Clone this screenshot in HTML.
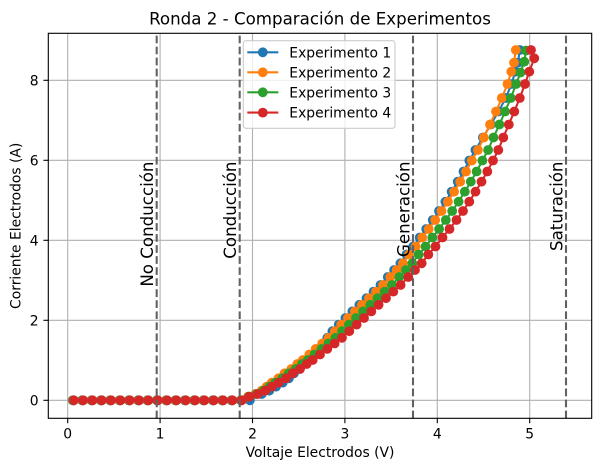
<!DOCTYPE html>
<html><head><meta charset="utf-8"><style>
html,body{margin:0;padding:0;background:#fff;}
svg{display:block;font-family:"DejaVu Sans","Liberation Sans",sans-serif;}
</style></head><body>
<svg width="600" height="471" viewBox="0 0 600 471" xmlns="http://www.w3.org/2000/svg">
<defs>
<marker id="mb" markerUnits="userSpaceOnUse" markerWidth="12" markerHeight="12" refX="6" refY="6" overflow="visible"><circle cx="6" cy="6" r="4.9" fill="#1f77b4"/></marker>
<marker id="mo" markerUnits="userSpaceOnUse" markerWidth="12" markerHeight="12" refX="6" refY="6" overflow="visible"><circle cx="6" cy="6" r="4.9" fill="#ff7f0e"/></marker>
<marker id="mg" markerUnits="userSpaceOnUse" markerWidth="12" markerHeight="12" refX="6" refY="6" overflow="visible"><circle cx="6" cy="6" r="4.9" fill="#2ca02c"/></marker>
<marker id="mr" markerUnits="userSpaceOnUse" markerWidth="12" markerHeight="12" refX="6" refY="6" overflow="visible"><circle cx="6" cy="6" r="4.9" fill="#d62728"/></marker>
</defs>
<rect width="600" height="471" fill="#fff"/>
<g stroke="#b0b0b0" stroke-width="1.1">
<line x1="67.7" y1="33.3" x2="67.7" y2="418.3"/>
<line x1="160.1" y1="33.3" x2="160.1" y2="418.3"/>
<line x1="252.5" y1="33.3" x2="252.5" y2="418.3"/>
<line x1="344.9" y1="33.3" x2="344.9" y2="418.3"/>
<line x1="437.3" y1="33.3" x2="437.3" y2="418.3"/>
<line x1="529.7" y1="33.3" x2="529.7" y2="418.3"/>
<line x1="48.3" y1="400.3" x2="591.7" y2="400.3"/>
<line x1="48.3" y1="320.3" x2="591.7" y2="320.3"/>
<line x1="48.3" y1="240.3" x2="591.7" y2="240.3"/>
<line x1="48.3" y1="160.3" x2="591.7" y2="160.3"/>
<line x1="48.3" y1="80.3" x2="591.7" y2="80.3"/>
</g>
<g fill="none" stroke-width="2.08" stroke-linejoin="round">
<polyline stroke="#1f77b4" marker-start="url(#mb)" marker-mid="url(#mb)" marker-end="url(#mb)" points="72.6,400.3 81.9,400.3 91.3,400.3 100.6,400.3 109.9,400.3 119.3,400.3 128.6,400.3 137.9,400.3 147.2,400.3 156.6,400.3 165.9,400.3 175.2,400.3 184.6,400.3 193.9,400.3 203.2,400.3 212.6,400.3 221.9,400.3 231.2,400.3 240.5,400.3 249.9,400.3 261.7,394 269.3,390.7 276,386.7 282.7,382.7 288.9,378.3 294,373.3 299.8,369 304.6,364 309,360 313.9,354.5 318.6,348.9 323.1,343.5 327.3,337.8 332.4,331.2 338.7,324.6 345.4,318 352.4,311.4 359.4,304.8 366.5,298.2 373.5,291.6 380.5,285 387.8,277 394.1,270 400.4,263.3 406.5,254.5 413.2,246.5 419.7,237.5 426.2,229 432.7,220 439,211 445.4,201.7 451.6,191.7 457.7,181.7 463.5,171.5 469.3,160.5 475.4,150 482.9,137.5 490.8,124.5 498.5,111.5 505.8,98 511.5,84 515.3,71.7 518,62.7 519.8,50"/>
<polyline stroke="#ff7f0e" marker-start="url(#mo)" marker-mid="url(#mo)" marker-end="url(#mo)" points="73,400.3 82.3,400.3 91.7,400.3 101,400.3 110.3,400.3 119.7,400.3 129,400.3 138.3,400.3 147.6,400.3 157,400.3 166.3,400.3 175.6,400.3 185,400.3 194.3,400.3 203.6,400.3 213,400.3 222.3,400.3 231.6,400.3 240.9,400.3 248,396.7 255.4,394 261.6,390.7 266.6,386.7 271.7,382.7 278.4,378.3 284.5,373.3 291.3,369 297.3,364 302.8,360 309.3,354.5 315.7,348.9 322.2,343.5 328.6,337.8 334.9,331.2 341.2,324.6 347.9,318 354.9,311.4 361.9,304.8 369,298.2 376,291.6 383,285 390.3,277 396.6,270 402.9,263.3 409,254.5 415.7,246.5 422.2,237.5 428.7,229 435.2,220 441.5,211 447.9,201.7 454.1,191.7 460.2,181.7 466,171.5 471.8,160.5 477.9,150 483.8,137.5 490,124.5 496,111.5 501.8,98 507.5,84 511.3,71.7 514,62.7 515.8,50"/>
<polyline stroke="#2ca02c" marker-start="url(#mg)" marker-mid="url(#mg)" marker-end="url(#mg)" points="73.4,400.3 82.7,400.3 92.1,400.3 101.4,400.3 110.7,400.3 120.1,400.3 129.4,400.3 138.7,400.3 148,400.3 157.4,400.3 166.7,400.3 176,400.3 185.4,400.3 194.7,400.3 204,400.3 213.4,400.3 222.7,400.3 232,400.3 241.3,400.3 248.6,396.7 256.5,394 263.4,390.7 269.3,386.7 275.2,382.7 282.2,378.3 288.6,373.3 295.6,369 302,364 307.8,360 314.6,354.5 321.5,348.9 328.4,343.5 335.3,337.8 342.1,331.2 348.9,324.6 356,318 363.1,311.4 370.2,304.8 377.5,298.2 384.6,291.6 391.8,285 399.3,277 405.8,270 412.3,263.3 418.6,254.5 425.6,246.5 432.3,237.5 439.1,229 445.8,220 452.2,211 458.6,201.7 464.8,191.7 470.8,181.7 476.6,171.5 482.4,160.5 488.1,150 493.5,137.5 499.4,124.5 505.1,111.5 510.8,98 516.2,84 520.5,72.5 524.3,61.7 526,50.5"/>
<polyline stroke="#d62728" marker-start="url(#mr)" marker-mid="url(#mr)" marker-end="url(#mr)" points="73.9,400.3 83.2,400.3 92.6,400.3 101.9,400.3 111.2,400.3 120.6,400.3 129.9,400.3 139.2,400.3 148.5,400.3 157.9,400.3 167.2,400.3 176.5,400.3 185.9,400.3 195.2,400.3 204.5,400.3 213.9,400.3 223.2,400.3 232.5,400.3 241.8,400.3 249.3,396.7 257.7,394 265.3,390.7 272,386.7 278.7,382.7 286,378.3 292.7,373.3 300,369 306.7,364 312.7,360 320,354.5 327.3,348.9 334.6,343.5 342,337.8 349.3,331.2 356.6,324.6 364,318 371.3,311.4 378.6,304.8 386,298.2 393.3,291.6 400.6,285 408.3,277 415,270 421.7,263.3 428.3,254.5 435.5,246.5 442.5,237.5 449.5,229 456.5,220 463,211 469.3,201.7 475.5,191.7 481.5,181.7 487.3,171.5 493,160.5 498.3,150 503.3,137.5 508.8,124.5 514.3,111.5 519.8,98 525,84 529.3,71.7 534.3,58.3 531,50"/>
</g>
<g stroke="#616161" stroke-width="2.08" stroke-dasharray="7.7 3.33">
<line x1="156.7" y1="418.3" x2="156.7" y2="33.3"/>
<line x1="239.7" y1="418.3" x2="239.7" y2="33.3"/>
<line x1="413" y1="418.3" x2="413" y2="33.3"/>
<line x1="566" y1="418.3" x2="566" y2="33.3"/>
</g>
<g font-size="16.67" fill="#000" text-anchor="end">
<text transform="translate(153,161.5) rotate(-90)">No Conducción</text>
<text transform="translate(236,161.5) rotate(-90)">Conducción</text>
<text transform="translate(409.3,161.5) rotate(-90)">Generación</text>
<text transform="translate(562.3,161.5) rotate(-90)">Saturación</text>
</g>
<rect x="243.3" y="40.7" width="151.7" height="87.6" rx="2.8" ry="2.8" fill="#fff" fill-opacity="0.8" stroke="#cccccc" stroke-width="1.1"/>
<g stroke-width="2.08">
<line x1="247.3" y1="52.3" x2="278.3" y2="52.3" stroke="#1f77b4"/>
<line x1="247.3" y1="72.3" x2="278.3" y2="72.3" stroke="#ff7f0e"/>
<line x1="247.3" y1="92.3" x2="278.3" y2="92.3" stroke="#2ca02c"/>
<line x1="247.3" y1="112.6" x2="278.3" y2="112.6" stroke="#d62728"/>
</g>
<circle cx="262.8" cy="52.3" r="4.9" fill="#1f77b4"/>
<circle cx="262.8" cy="72.3" r="4.9" fill="#ff7f0e"/>
<circle cx="262.8" cy="92.3" r="4.9" fill="#2ca02c"/>
<circle cx="262.8" cy="112.6" r="4.9" fill="#d62728"/>
<g font-size="13.89" fill="#000">
<text x="289.3" y="57.3">Experimento 1</text>
<text x="289.3" y="77.3">Experimento 2</text>
<text x="289.3" y="97.3">Experimento 3</text>
<text x="289.3" y="117.6">Experimento 4</text>
</g>
<rect x="48.3" y="33.3" width="543.4" height="385" fill="none" stroke="#000" stroke-width="1.1"/>
<g stroke="#000" stroke-width="1.1">
<line x1="67.7" y1="418.3" x2="67.7" y2="423.2"/>
<line x1="160.1" y1="418.3" x2="160.1" y2="423.2"/>
<line x1="252.5" y1="418.3" x2="252.5" y2="423.2"/>
<line x1="344.9" y1="418.3" x2="344.9" y2="423.2"/>
<line x1="437.3" y1="418.3" x2="437.3" y2="423.2"/>
<line x1="529.7" y1="418.3" x2="529.7" y2="423.2"/>
<line x1="43.4" y1="400.3" x2="48.3" y2="400.3"/>
<line x1="43.4" y1="320.3" x2="48.3" y2="320.3"/>
<line x1="43.4" y1="240.3" x2="48.3" y2="240.3"/>
<line x1="43.4" y1="160.3" x2="48.3" y2="160.3"/>
<line x1="43.4" y1="80.3" x2="48.3" y2="80.3"/>
</g>
<g font-size="13.89" fill="#000" text-anchor="middle">
<text x="67.7" y="438.3">0</text>
<text x="160.1" y="438.3">1</text>
<text x="252.5" y="438.3">2</text>
<text x="344.9" y="438.3">3</text>
<text x="437.3" y="438.3">4</text>
<text x="529.7" y="438.3">5</text>
</g>
<g font-size="13.89" fill="#000" text-anchor="end">
<text x="38.6" y="405.3">0</text>
<text x="38.6" y="325.3">2</text>
<text x="38.6" y="245.3">4</text>
<text x="38.6" y="165.3">6</text>
<text x="38.6" y="85.3">8</text>
</g>
<text x="320" y="457" font-size="13.89" text-anchor="middle" fill="#000">Voltaje Electrodos (V)</text>
<text transform="translate(20.3,225.8) rotate(-90)" font-size="13.89" text-anchor="middle" fill="#000">Corriente Electrodos (A)</text>
<text x="320" y="24.5" font-size="16.67" text-anchor="middle" fill="#000">Ronda 2 - Comparación de Experimentos</text>
</svg>
</body></html>
